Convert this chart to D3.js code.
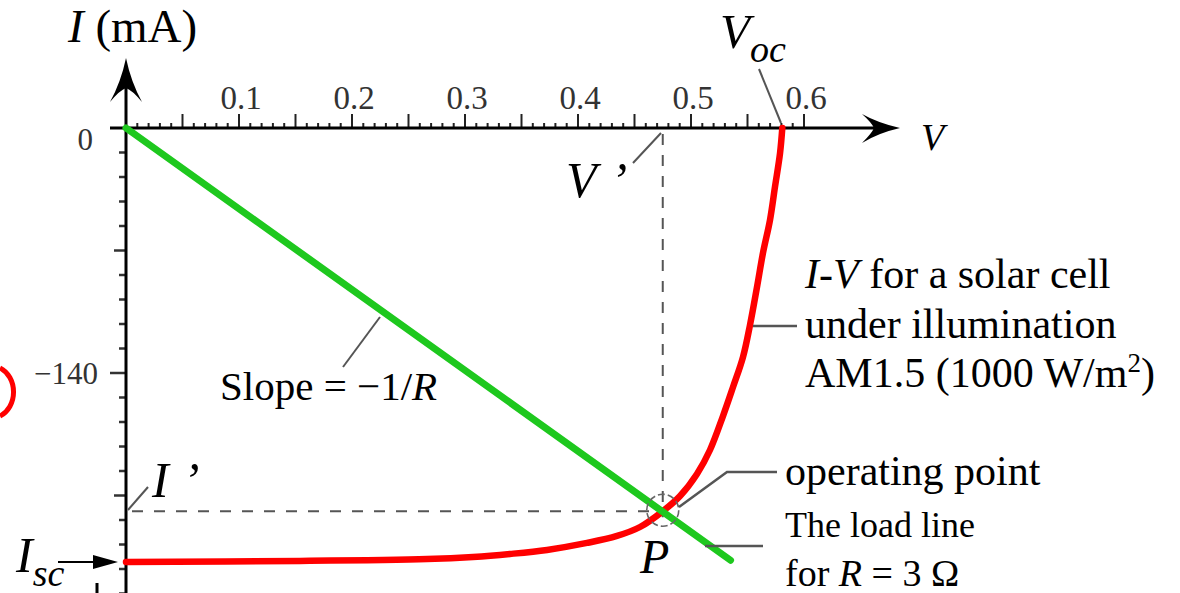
<!DOCTYPE html>
<html>
<head>
<meta charset="utf-8">
<script src="https://cdn.jsdelivr.net/npm/d3@7/dist/d3.min.js"></script>
<style>
html,body{margin:0;padding:0;background:#fff;}
svg{display:block;}
text{font-family:"Liberation Serif","Times New Roman",serif;fill:#000;}
</style>
</head>
<body>
<svg id="chart" width="1180" height="593"></svg>
<script>
// ---- data ----
const ivVoltage = [0, 0.154, 0.2664, 0.3071, 0.3398, 0.3726, 0.4080, 0.4345, 0.4549, 0.4752, 0.4903, 0.5053, 0.5168, 0.5283, 0.5372, 0.5460, 0.5522, 0.5584, 0.5637, 0.5699, 0.5743, 0.5788, 0.5808];
const ivCurrent = [-248, -247.4, -246.3, -245.1, -243.4, -241.1, -237.1, -233.1, -228, -218.9, -210.3, -197.7, -184, -164.6, -148, -130.9, -112.6, -90.9, -71.4, -52.6, -33.7, -14.3, 0];
const loadVoltage = [0, 0.535];
const loadCurrent = [0, -247];
const xTickLabels = [0.1, 0.2, 0.3, 0.4, 0.5, 0.6];
const yTickLabels = [0, -140];
const opVoltage = 0.475, opCurrent = -219;
const iscCurrent = -248;

// ---- scales ----
const svg = d3.select("#chart");
const x = d3.scaleLinear().domain([0, 0.6]).range([126, 804]);
const y = d3.scaleLinear().domain([0, -140]).range([128, 373]);
const x0 = x(0), y0 = y(0);

// minor ticks x
const xMinor = d3.range(1, 61).map(i => i / 100);
svg.append("g").selectAll("line").data(xMinor).join("line")
  .attr("x1", d => x(d)).attr("x2", d => x(d))
  .attr("y1", y0).attr("y2", (d, i) => ((i + 1) % 5 === 0) ? y0 - 14 : y0 - 5)
  .attr("stroke", "#222").attr("stroke-width", 2);

// y minor ticks every 14 mA
const yMinor = d3.range(1, 20).map(i => -14 * i);
svg.append("g").selectAll("line").data(yMinor).join("line")
  .attr("x1", x0).attr("y1", d => y(d)).attr("y2", d => y(d))
  .attr("x2", (d, i) => ((i + 1) % 10 === 0) ? x0 - 16 : ((i + 1) % 5 === 0 ? x0 - 12 : x0 - 7))
  .attr("stroke", "#333").attr("stroke-width", 2.5);

// axes lines
svg.append("line").attr("x1", 110).attr("x2", 880).attr("y1", y0).attr("y2", y0)
  .attr("stroke", "#000").attr("stroke-width", 3);
svg.append("line").attr("x1", x0).attr("x2", x0).attr("y1", 80).attr("y2", 593)
  .attr("stroke", "#000").attr("stroke-width", 3);
// arrow heads
svg.append("path").attr("d", `M${x0},58 Q${x0-5},82 ${x0-16},102 Q${x0-6},90 ${x0},88 Q${x0+6},90 ${x0+16},102 Q${x0+5},82 ${x0},58 Z`).attr("fill", "#000");
svg.append("path").attr("d", `M900,${y0} Q878,${y0-5} 862,${y0-14} Q872,${y0-5} 874,${y0} Q872,${y0+5} 862,${y0+15} Q878,${y0+5} 900,${y0} Z`).attr("fill", "#000");

// x tick labels
svg.append("g").selectAll("text").data(xTickLabels).join("text")
  .attr("x", d => x(d) + 2).attr("y", 109).attr("text-anchor", "middle")
  .style("font-size", "33px").style("fill", "#333").text(d => d.toFixed(1));
// y tick labels
svg.append("g").selectAll("text").data(yTickLabels).join("text")
  .attr("x", d => d === 0 ? 93 : 98).attr("y", d => d === 0 ? y(d) + 22 : y(d) + 11).attr("text-anchor", "end")
  .style("font-size", "31px").style("fill", "#333").text(d => d === 0 ? "0" : "\u2212" + Math.abs(d));

// dashed guide lines
svg.append("line").attr("x1", x(opVoltage)).attr("x2", x(opVoltage)).attr("y1", y0 + 6).attr("y2", y(opCurrent) + 6)
  .attr("stroke", "#555").attr("stroke-width", 2).attr("stroke-dasharray", "11,10");
svg.append("line").attr("x1", x0 + 6).attr("x2", x(opVoltage) + 4).attr("y1", y(opCurrent)).attr("y2", y(opCurrent))
  .attr("stroke", "#555").attr("stroke-width", 2).attr("stroke-dasharray", "11,11");

// I-V curve
const line = d3.line().x(d => x(d[0])).y(d => y(d[1])).curve(d3.curveCatmullRom.alpha(0.5));
svg.append("path").datum(ivVoltage.map((v, i) => [v, ivCurrent[i]]))
  .attr("d", line).attr("fill", "none").attr("stroke", "#ff0000").attr("stroke-width", 6.5)
  .attr("stroke-linecap", "round");

// load line
svg.append("path").datum(loadVoltage.map((v, i) => [v, loadCurrent[i]]))
  .attr("d", d3.line().x(d => x(d[0])).y(d => y(d[1]))).attr("fill", "none")
  .attr("stroke", "#1ec81e").attr("stroke-width", 7).attr("stroke-linecap", "round");

// operating point circle
svg.append("circle").attr("cx", x(opVoltage)).attr("cy", y(opCurrent) - 1).attr("r", 16)
  .attr("fill", "none").attr("stroke", "#666").attr("stroke-width", 1.6).attr("stroke-dasharray", "7,3");

// leader lines
const leaders = [
  [[343, 367], [380, 317]],
  [[633, 163], [661, 133]],
  [[759, 69], [781, 123]],
  [[128, 510], [148, 487]],
  [[753, 326], [797, 326]],
  [[679, 507], [727, 472], [777, 472]],
  [[705, 546], [763, 546]]
];
leaders.forEach((pts, i) => {
  svg.append("path").attr("d", d3.line()(pts)).attr("fill", "none")
    .attr("stroke", "#555").attr("stroke-width", i >= 4 ? 2.5 : 2);
});

// Isc arrow
svg.append("line").attr("x1", 58).attr("x2", 100).attr("y1", y(iscCurrent)).attr("y2", y(iscCurrent))
  .attr("stroke", "#000").attr("stroke-width", 2);
svg.append("path").attr("d", `M118,${y(iscCurrent)} L93,${y(iscCurrent) - 7} L93,${y(iscCurrent) + 7} Z`).attr("fill", "#000");
svg.append("line").attr("x1", 97).attr("x2", 97).attr("y1", 583).attr("y2", 593).attr("stroke", "#000").attr("stroke-width", 3);

// stray red arc at left edge
svg.append("path").attr("d", "M0,368 A22,26 0 0 1 0,416").attr("fill", "none").attr("stroke", "#ff0000").attr("stroke-width", 5);

// ---- text ----
function italic(sel) { return sel.style("font-style", "italic"); }
let t = svg.append("text").attr("x", 68).attr("y", 42).style("font-size", "47px");
t.append("tspan").style("font-style", "italic").text("I");
t.append("tspan").text(" (mA)");

italic(svg.append("text").attr("x", 921).attr("y", 150).style("font-size", "38px").text("V"));

t = italic(svg.append("text").attr("x", 720).attr("y", 48).style("font-size", "49px"));
t.append("tspan").text("V");
t.append("tspan").attr("dy", 14).style("font-size", "38px").text("oc");

t = italic(svg.append("text").attr("x", 566).attr("y", 197).style("font-size", "50px"));
t.append("tspan").text("V");
t.append("tspan").attr("dx", 14).text("\u2019");

t = italic(svg.append("text").attr("x", 152).attr("y", 497).style("font-size", "50px"));
t.append("tspan").text("I");
t.append("tspan").attr("dx", 14).text("\u2019");

t = italic(svg.append("text").attr("x", 16).attr("y", 572).style("font-size", "50px"));
t.append("tspan").text("I");
t.append("tspan").attr("dy", 14).style("font-size", "38px").text("sc");

italic(svg.append("text").attr("x", 640).attr("y", 573).style("font-size", "48px").text("P"));

t = svg.append("text").attr("x", 220).attr("y", 400).style("font-size", "41px");
t.append("tspan").text("Slope = \u22121/");
t.append("tspan").style("font-style", "italic").text("R");

t = svg.append("text").attr("x", 805).attr("y", 288).style("font-size", "42px");
t.append("tspan").style("font-style", "italic").text("I");
t.append("tspan").text("-");
t.append("tspan").style("font-style", "italic").text("V");
t.append("tspan").text(" for a solar cell");
svg.append("text").attr("x", 805).attr("y", 338).style("font-size", "42px").text("under illumination");
t = svg.append("text").attr("x", 805).attr("y", 387).style("font-size", "42px");
t.append("tspan").text("AM1.5 (1000 W/m");
t.append("tspan").attr("dy", -15).style("font-size", "27px").text("2");
t.append("tspan").attr("dy", 15).text(")");

svg.append("text").attr("x", 785).attr("y", 485).style("font-size", "42px").text("operating point");
svg.append("text").attr("x", 785).attr("y", 537).style("font-size", "36px").text("The load line");
t = svg.append("text").attr("x", 785).attr("y", 586).style("font-size", "38px");
t.append("tspan").text("for ");
t.append("tspan").style("font-style", "italic").text("R");
t.append("tspan").text(" = 3 \u03A9");
</script>
</body>
</html>
